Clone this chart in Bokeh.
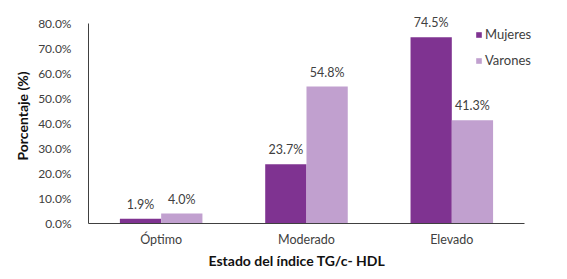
from bokeh.plotting import figure
from bokeh.models import ColumnDataSource, FixedTicker, PrintfTickFormatter, Legend, LegendItem, Range1d, Title
from bokeh.core.properties import value
from bokeh.embed import file_html
from bokeh.resources import INLINE

categories = ["Óptimo", "Moderado", "Elevado"]
mujeres = [1.9, 23.7, 74.5]
varones = [4.0, 54.8, 41.3]
y_ticks = [0, 10, 20, 30, 40, 50, 60, 70, 80]

FONT = "Lato"
C_M = "#7F3391"
C_V = "#C1A0CF"
OFF = 0.142
BW = 0.284

idx = list(range(len(categories)))
src = ColumnDataSource(dict(
    xm=[i - OFF for i in idx],
    xv=[i + OFF for i in idx],
    m=mujeres,
    v=varones,
    ml=[f"{x:.1f}%" for x in mujeres],
    vl=[f"{x:.1f}%" for x in varones],
))

p = figure(frame_width=463, frame_height=215,
           x_range=Range1d(-0.5, 2.686), y_range=Range1d(0, 86),
           output_backend="svg", toolbar_location=None,
           min_border_left=88, min_border_right=8, min_border_top=8, min_border_bottom=52)
p.outline_line_color = None
p.xgrid.visible = False
p.ygrid.visible = False

rm = p.vbar(x="xm", top="m", width=BW, source=src, fill_color=C_M, line_color=None)
rv = p.vbar(x="xv", top="v", width=BW, source=src, fill_color=C_V, line_color=None)

for xcol, ycol, tcol in (("xm", "m", "ml"), ("xv", "v", "vl")):
    p.text(x=xcol, y=ycol, text=tcol, source=src,
           text_align="center", text_baseline="bottom", y_offset=-7,
           text_font=value(FONT), text_font_size="12.5px", text_color="#404040")

p.yaxis.ticker = FixedTicker(ticks=y_ticks)
p.yaxis.formatter = PrintfTickFormatter(format="%.1f%%")
p.yaxis.bounds = (0, 80)
p.xaxis.ticker = FixedTicker(ticks=idx)
p.xaxis.major_label_overrides = {i: c for i, c in zip(idx, categories)}
p.xaxis.bounds = (-0.5, 2.5)
p.axis.major_tick_line_color = None
p.axis.minor_tick_line_color = None
p.axis.axis_line_color = "#404040"
p.axis.major_label_text_font = FONT
p.axis.major_label_text_font_size = "12px"
p.axis.major_label_text_color = "#404040"
p.xaxis.major_label_text_font_size = "12.5px"
p.yaxis.major_label_standoff = 11
p.xaxis.major_label_standoff = 2

p.yaxis.axis_label = "Porcentaje (%)"
p.yaxis.axis_label_text_font = FONT
p.yaxis.axis_label_text_font_style = "bold"
p.yaxis.axis_label_text_font_size = "14px"
p.yaxis.axis_label_text_color = "#111111"
p.yaxis.axis_label_standoff = 4

xtitle = Title(text="Estado del índice TG/c- HDL", align="left", offset=120,
               text_font=FONT, text_font_style="bold", text_font_size="14px",
               text_color="#111111", standoff=0)
p.add_layout(xtitle, "below")

legend = Legend(items=[LegendItem(label="Mujeres", renderers=[rm]),
                       LegendItem(label="Varones", renderers=[rv])],
                location=(387, 153), orientation="vertical")
legend.border_line_color = None
legend.background_fill_alpha = 0
legend.padding = 0
legend.margin = 0
legend.spacing = 6
legend.glyph_width = 7
legend.glyph_height = 7
legend.label_standoff = 3
legend.label_height = 20
legend.label_text_font = FONT
legend.label_text_font_size = "13px"
legend.label_text_color = "#404040"
p.add_layout(legend, "center")

open("out.html", "w").write(file_html(p, INLINE))
